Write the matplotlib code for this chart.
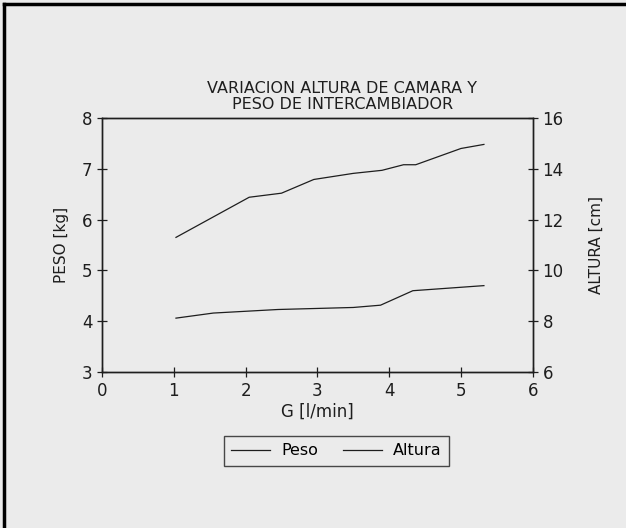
import numpy as np
import matplotlib.pyplot as plt
from matplotlib.lines import Line2D

# G [l/min] vs peso [kg] (upper curve, left axis)
g_peso = [1.03, 2.05, 2.5, 2.95, 3.5, 3.9, 4.2, 4.37, 5.0, 5.32]
peso = [5.65, 6.44, 6.52, 6.79, 6.91, 6.97, 7.08, 7.08, 7.40, 7.48]

# G [l/min] vs altura [cm] (lower curve, right axis)
g_alt = [1.03, 1.55, 2.45, 3.5, 3.88, 4.33, 5.32]
altura = [8.12, 8.32, 8.46, 8.54, 8.63, 9.2, 9.4]

bg = "#ebebeb"
ink = "#1e1e1e"
setting = {"color": ink, "family": "DejaVu Sans"}

fig = plt.figure(figsize=(6.26, 5.28), dpi=100, facecolor=bg)
ax = fig.add_axes([0.163, 0.2955, 0.688, 0.481], facecolor=bg)
ax2 = ax.twinx()

l1, = ax.plot(g_peso, peso, color=ink, lw=0.9)
l2, = ax2.plot(g_alt, altura, color=ink, lw=0.9)

ax.set_xlim(0, 6)
ax.set_ylim(3, 8)
ax2.set_ylim(6, 16)
ax.set_xticks(range(0, 7))
ax.set_yticks(range(3, 9))
ax2.set_yticks(range(6, 17, 2))

for a in (ax, ax2):
    a.tick_params(direction="inout", length=7, width=0.9, colors=ink, labelsize=12)
    for s in a.spines.values():
        s.set_color(ink)
        s.set_linewidth(1.0)

ax.set_xlabel("G [l/min]", fontsize=12, labelpad=2, **setting)
ax.set_ylabel("PESO [kg]", fontsize=11, labelpad=9, **setting)
ax2.set_ylabel("ALTURA [cm]", fontsize=11, labelpad=18, **setting)
fig.text(0.547, 0.788, "VARIACION ALTURA DE CAMARA Y\nPESO DE INTERCAMBIADOR",
         ha="center", va="bottom", fontsize=11.5, linespacing=1.05, **setting)

leg = fig.legend([l1, l2], ["Peso", "Altura"], ncol=2, loc="center",
                 bbox_to_anchor=(0.5375, 0.146), frameon=True, fancybox=False,
                 fontsize=11.5, handlelength=2.4, columnspacing=1.6, borderpad=0.45,
                 handletextpad=0.7)
leg.get_frame().set_edgecolor(ink)
leg.get_frame().set_facecolor(bg)
leg.get_frame().set_linewidth(1.0)

# page border of the scanned frame
fig.add_artist(Line2D([0.006, 0.006], [0, 0.992], transform=fig.transFigure, color="black", lw=2.5))
fig.add_artist(Line2D([0.006, 1], [0.992, 0.992], transform=fig.transFigure, color="black", lw=2.5))

plt.savefig("out.png", dpi=100, facecolor=bg)
